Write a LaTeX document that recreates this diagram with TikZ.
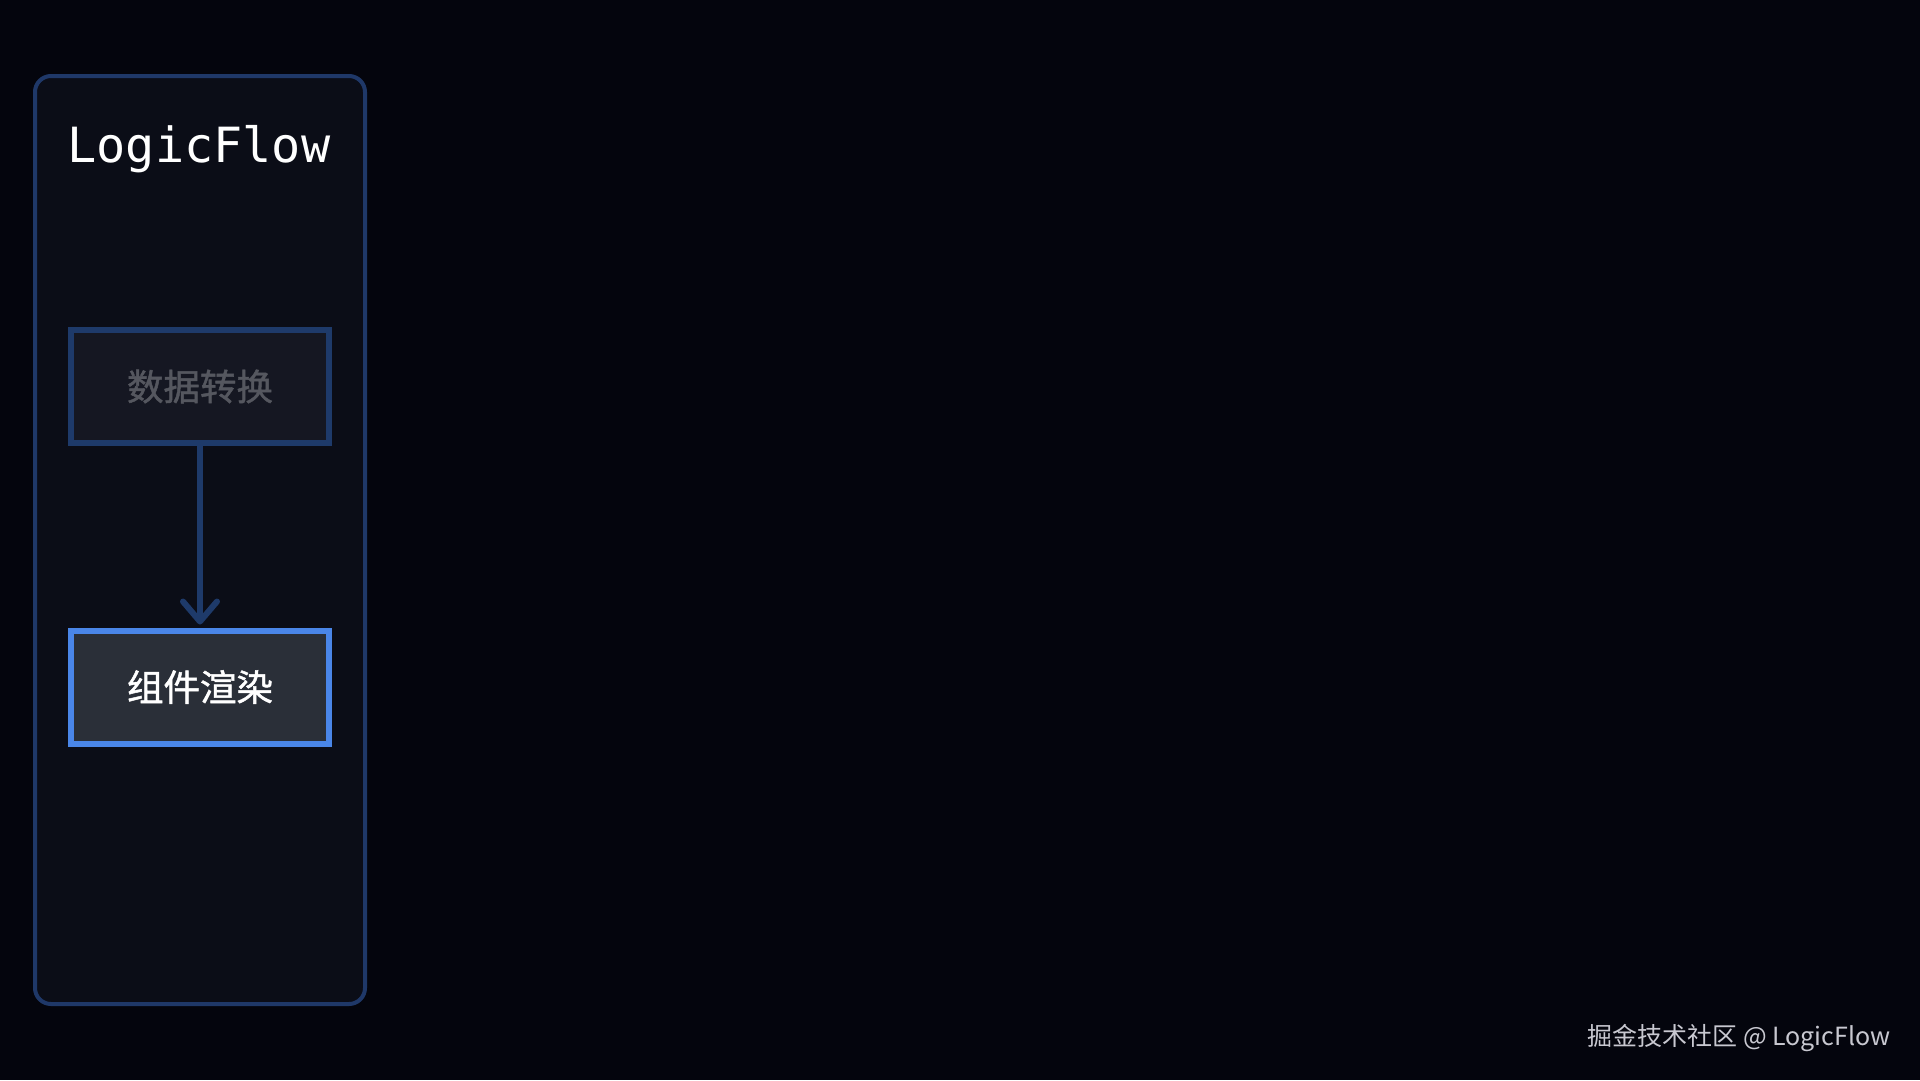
\documentclass[tikz,border=0pt]{standalone}
\usepackage{fontspec}
\setmainfont{Noto Sans CJK SC}
\newfontfamily\monofnt{DejaVu Sans Mono}
\newfontfamily\cjkfnt{Noto Sans CJK SC}
\newfontfamily\cjkmed[FakeBold=1.3]{Noto Sans CJK SC}
\usetikzlibrary{arrows.meta}
\definecolor{bgc}{HTML}{04050D}
\definecolor{panelfill}{HTML}{0B0D17}
\definecolor{panelline}{HTML}{1F3868}
\definecolor{dimline}{HTML}{1E3A6A}
\definecolor{dimfill}{HTML}{151722}
\definecolor{dimtext}{HTML}{55575F}
\definecolor{actline}{HTML}{4A86E8}
\definecolor{actfill}{HTML}{2A2F38}
\definecolor{foottext}{HTML}{C8C8D0}
\tikzset{
  panel/.style={draw=panelline, fill=panelfill, line width=4pt, rounded corners=16pt},
  stepbox/.style={rectangle, minimum width=258pt, minimum height=113pt, line width=6pt, inner sep=0pt, font=\cjkmed\fontsize{36.5}{42}\selectfont},
  dimbox/.style={stepbox, draw=dimline, fill=dimfill, text=dimtext},
  actbox/.style={stepbox, draw=actline, fill=actfill, text=white},
  flowarrow/.style={draw=dimline, line width=6pt, -{Straight Barb[length=20pt, width=34pt, line width=6pt, round]}}
}
\begin{document}
\begin{tikzpicture}[x=1pt, y=-1pt]
\fill[bgc] (0,0) rectangle (1920,1080);
\useasboundingbox (0,0) rectangle (1920,1080);
\draw[panel] (35,76) rectangle (365,1004);
\node[font=\monofnt\fontsize{48.5}{54}\selectfont, text=white, anchor=base] (title) at (199,162) {LogicFlow};
\node[dimbox] (conv) at (200,386.5) {数据转换};
\node[actbox] (render) at (200,687) {组件渲染};
\draw[flowarrow] (conv.south) -- ([yshift=3pt]render.north);
\node[font=\cjkfnt\fontsize{25}{30}\selectfont, text=foottext, anchor=base east] (footer) at (1894,1045) {掘金技术社区 @ LogicFlow};
\end{tikzpicture}
\end{document}
